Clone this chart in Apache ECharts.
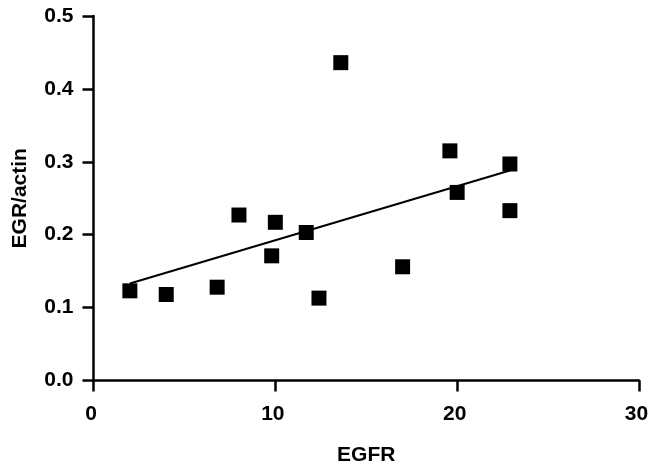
<!DOCTYPE html>
<html><head><meta charset="utf-8">
<script src="https://cdn.jsdelivr.net/npm/echarts@6/dist/echarts.min.js"></script>
<style>html,body{margin:0;padding:0;background:#fff}#c{width:649px;height:466px}</style>
</head><body><div id="c"></div>
<script>
const egfr = [2.0, 4.0, 6.8, 8.0, 9.8, 10.0, 11.7, 12.4, 13.6, 17.0, 19.6, 20.0, 22.9, 22.9];
const egrActin = [0.123, 0.118, 0.128, 0.227, 0.171, 0.217, 0.203, 0.113, 0.436, 0.156, 0.315, 0.258, 0.297, 0.233];
const fitX = [2.0, 22.9];
const fitY = [0.133, 0.288];
const xTicks = [0, 10, 20, 30];
const yTicks = [0.0, 0.1, 0.2, 0.3, 0.4, 0.5];

const font = {fontFamily: 'Liberation Sans, Arial, sans-serif', fontWeight: 'bold', color: '#000'};
const chart = echarts.init(document.getElementById('c'), null, {renderer: 'canvas'});
chart.setOption({
  animation: false,
  backgroundColor: '#fff',
  grid: {left: 93.5, right: 10, top: 16, bottom: 85.5, containLabel: false, outerBoundsMode: 'none'},
  xAxis: {
    type: 'value', min: xTicks[0], max: xTicks[xTicks.length - 1], interval: 10,
    name: 'EGFR', nameLocation: 'middle', nameGap: 64,
    nameTextStyle: Object.assign({fontSize: 21}, font),
    axisLine: {lineStyle: {color: '#000', width: 2.5}},
    axisTick: {show: true, length: 11, inside: false, lineStyle: {color: '#000', width: 2.5}},
    axisLabel: Object.assign({fontSize: 21, margin: 23, padding: [0, 5, 0, 0]}, font),
    splitLine: {show: false}
  },
  yAxis: {
    type: 'value', min: yTicks[0], max: yTicks[yTicks.length - 1], interval: 0.1,
    name: 'EGR/actin', nameLocation: 'middle', nameGap: 63, nameRotate: 90,
    nameTextStyle: Object.assign({fontSize: 21}, font),
    axisLine: {lineStyle: {color: '#000', width: 2.5}},
    axisTick: {show: true, length: 11, inside: false, lineStyle: {color: '#000', width: 2.5}},
    axisLabel: Object.assign({fontSize: 21, margin: 20, formatter: v => v.toFixed(1)}, font),
    splitLine: {show: false}
  },
  series: [
    {
      type: 'line', data: fitX.map((x, i) => [x, fitY[i]]),
      symbol: 'none', lineStyle: {color: '#000', width: 2}, z: 2
    },
    {
      type: 'scatter', data: egfr.map((x, i) => [x, egrActin[i]]),
      symbol: 'rect', symbolSize: 15, itemStyle: {color: '#000', opacity: 1}, z: 3
    }
  ]
});
</script></body></html>
